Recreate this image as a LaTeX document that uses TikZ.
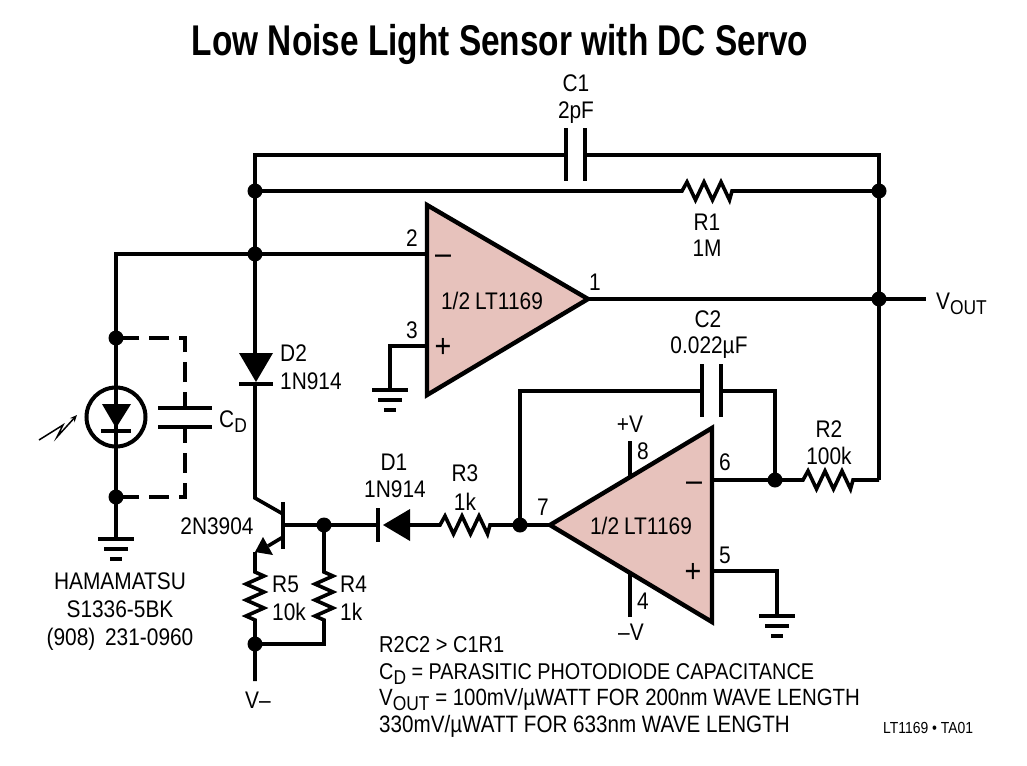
\documentclass[tikz,border=0pt]{standalone}
\usepackage{fontspec}
\setmainfont[FakeStretch=0.87]{Liberation Sans}
\newfontfamily\titlefont[FakeStretch=0.777]{Liberation Sans}
\usetikzlibrary{arrows.meta}
\definecolor{opfill}{HTML}{E7C2BC}
\newcommand\hzig{-- ++(5,-9) -- ++(8.5,18) -- ++(8.5,-18) -- ++(8.5,18) -- ++(8.5,-18) -- ++(8.5,18) -- ++(2.5,-9)}
\newcommand\vzig{-- ++(9,4) -- ++(-18,8) -- ++(18,8) -- ++(-18,8) -- ++(18,8) -- ++(-18,8) -- ++(9,4)}
\newcommand\subt[1]{\raisebox{-5pt}{\fontsize{20}{22}\selectfont #1}}
\tikzset{
  wire/.style={line width=3.6pt},
  amp/.style={line width=4.4pt,fill=opfill,line join=miter,miter limit=20},
  plate/.style={line width=4.2pt},
  dot/.style={circle,fill=black,inner sep=0pt,minimum size=15pt},
  lab/.style={inner sep=0pt,anchor=base,font=\fontsize{24}{26}\selectfont},
  labl/.style={inner sep=0pt,anchor=base west,font=\fontsize{24}{26}\selectfont},
  sign/.style={inner sep=0pt,anchor=base,font=\fontsize{33}{35}\selectfont},
  dashw/.style={line width=3.6pt,dash pattern=on 20pt off 10pt,dash phase=4pt},
}
\begin{document}
\begin{tikzpicture}[x=1pt,y=-1pt]
\useasboundingbox (0,0) rectangle (1027,765);
% title
\node[inner sep=0pt,anchor=base,font=\titlefont\bfseries\fontsize{43}{46}\selectfont] (title) at (500,56) {Low Noise Light Sensor with DC Servo};
% key points
\coordinate (tl) at (255,155); \coordinate (tr) at (879,155);
\coordinate (c1a) at (566,155); \coordinate (c1b) at (585,155);
\coordinate (r1a) at (682,191);
\coordinate (in2) at (427,254); \coordinate (in3) at (427,346);
\coordinate (g1) at (390,346); \coordinate (g1b) at (390,390);
\coordinate (o1) at (588,299); \coordinate (vout) at (926,299);
\coordinate (pdtop) at (116,254); \coordinate (pdgnd) at (116,539);
\coordinate (d2a) at (255,353); \coordinate (d2b) at (255,384);
\coordinate (col) at (255,498); \coordinate (colb) at (283,514);
\coordinate (eb) at (283,537); \coordinate (ee) at (268,546);
\coordinate (et) at (255,552); \coordinate (r5a) at (255,572); \coordinate (r5b) at (255,620);
\coordinate (base) at (283,525); \coordinate (r4a) at (324,572); \coordinate (r4b) at (324,620);
\coordinate (r4c) at (324,644); \coordinate (vm) at (255,681);
\coordinate (d1k) at (378,525); \coordinate (d1a) at (410,525); \coordinate (r3a) at (440,525);
\coordinate (o2) at (550,525);
\coordinate (c2l) at (520,391); \coordinate (c2a) at (702,391); \coordinate (c2b) at (721,391); \coordinate (c2r) at (775,391);
\coordinate (in6) at (712,480); \coordinate (r2a) at (803,480); \coordinate (r2e) at (879,480);
\coordinate (in5) at (712,571); \coordinate (g2) at (777,571); \coordinate (g2b) at (777,616);
\coordinate (p8) at (630,441); \coordinate (p8b) at (630,478);
\coordinate (p4) at (630,617); \coordinate (p4b) at (630,572);
% junctions
\node[dot] (j1) at (255,191) {}; \node[dot] (j2) at (879,191) {};
\node[dot] (j3) at (255,254) {}; \node[dot] (j4) at (879,299) {};
\node[dot] (j5) at (116,338) {}; \node[dot] (j6) at (116,497) {};
\node[dot] (j7) at (324,525) {}; \node[dot] (j8) at (520,525) {};
\node[dot] (j9) at (775,480) {}; \node[dot] (j10) at (255,644) {};
% wires
\draw[wire] (c1a) -- (tl) -- (d2a);
\draw[wire] (c1b) -- (tr) -- (r2e);
\draw[wire] (j1.center) -- (r1a) \hzig -- (j2.center);
\draw[wire] (in2) -- (pdtop) -- (pdgnd);
\draw[wire] (in3) -- (g1) -- (g1b);
\draw[wire] (o1) -- (vout);
\draw[wire] (d2b) -- (col) -- (colb);
\draw[wire] (base) -- (d1k);
\draw[wire] (eb) -- (ee);
\draw[wire] (et) -- (r5a) \vzig -- (j10.center) -- (vm);
\draw[wire] (j7.center) -- (r4a) \vzig -- (r4c) -- (j10.center);
\draw[wire] (d1a) -- (r3a) \hzig -- (o2);
\draw[wire] (j8.center) -- (c2l) -- (c2a);
\draw[wire] (c2b) -- (c2r) -- (j9.center);
\draw[wire] (in6) -- (r2a) \hzig -- (r2e);
\draw[wire] (in5) -- (g2) -- (g2b);
\draw[wire] (p8) -- (p8b);
\draw[wire] (p4) -- (p4b);
% op amps
\draw[amp] (427,205) -- (588,299) -- (427,395) -- cycle;
\draw[amp] (712,428) -- (712,622) -- (550,525) -- cycle;
% C1, C2
\draw[plate] (566,128) -- (566,181); \draw[plate] (585,128) -- (585,181);
\draw[plate] (702,364) -- (702,417); \draw[plate] (721,364) -- (721,417);
% D2
\fill (239,353) -- (273,353) -- (256,382) -- cycle;
\draw[plate] (239,384) -- (273,384);
% transistor
\draw[plate] (283,502) -- (283,549);
\fill (263,537) -- (255,552) -- (273,555) -- cycle;
% D1
\draw[plate] (378,508) -- (378,542);
\fill (383,525) -- (410,509) -- (410,541) -- cycle;
% photodiode
\draw[line width=4pt] (116,417) circle (29.5);
\fill (102,404) -- (131,404) -- (116,428) -- cycle;
\draw[plate] (101,431) -- (131,431);
% light arrow
\draw[line width=1.5pt,-{Stealth[length=7pt,width=6pt]}] (39,440) -- (63,425) -- (57,437) -- (77,415);
% CD
\draw[plate] (158,408) -- (212,408); \draw[plate] (158,427) -- (212,427);
\draw[dashw] (185,408) -- (185,338) -- (j5.center);
\draw[dashw] (185,427) -- (185,497) -- (j6.center);
% grounds
\foreach \n/\x/\y in {a/116/539,b/390/390,c/777/616}{
  \draw[plate] (\x-18,\y) -- (\x+18,\y);
  \draw[plate] (\x-12,\y+10) -- (\x+12,\y+10);
  \draw[plate] (\x-6,\y+20) -- (\x+6,\y+20);
}
% labels
\node[lab] (lc1) at (576,92) {C1};
\node[lab] (lc1v) at (576,119) {2pF};
\node[lab] (lr1) at (707,230) {R1};
\node[lab] (lr1v) at (707,256) {1M};
\node[lab] (l2) at (412,246) {2};
\node[lab] (l3) at (412,338) {3};
\node[lab] (l1) at (595,290) {1};
\node[lab] (lo1) at (492,309) {1/2\hspace{5pt}LT1169};
\node[sign] (m1) at (443,264) {–};
\node[sign] (p1) at (443,357) {+};
\node[lab] (lc2) at (708,327) {C2};
\node[lab] (lc2v) at (709,353) {0.022µF};
\node[labl] (lvout) at (936,309) {V\subt{OUT}};
\node[labl] (ld2) at (280,361) {D2};
\node[labl] (ld2v) at (280,389) {1N914};
\node[labl] (lcd) at (219,427) {C\subt{D}};
\node[lab] (lq) at (217,534) {2N3904};
\node[lab] (ls1) at (120,589) {HAMAMATSU};
\node[lab] (ls2) at (120,617) {S1336-5BK};
\node[lab] (ls3) at (120,645) {(908)\hspace{4pt} 231-0960};
\node[lab] (lvm) at (258,708) {V–};
\node[labl] (lr5) at (272,592) {R5};
\node[labl] (lr5v) at (272,620) {10k};
\node[labl] (lr4) at (340,592) {R4};
\node[labl] (lr4v) at (340,620) {1k};
\node[lab] (ld1) at (394,470) {D1};
\node[lab] (ld1v) at (395,497) {1N914};
\node[lab] (lr3) at (465,481) {R3};
\node[lab] (lr3v) at (465,510) {1k};
\node[lab] (l7) at (543,515) {7};
\node[lab] (lpv) at (630,432) {+V};
\node[lab] (l8) at (643,459) {8};
\node[lab] (l6) at (725,470) {6};
\node[sign] (m2) at (694,491) {–};
\node[lab] (l5) at (725,563) {5};
\node[sign] (p2) at (693,582) {+};
\node[lab] (l4) at (643,609) {4};
\node[lab] (lmv) at (631,640) {–V};
\node[lab] (lr2) at (829,437) {R2};
\node[lab] (lr2v) at (829,464) {100k};
\node[lab] (lo2) at (641,534) {1/2\hspace{5pt}LT1169};
\node[labl,font=\fontsize{23}{26}\selectfont] (n1) at (379,652) {R2C2 > C1R1};
\node[labl,font=\fontsize{22.8}{26}\selectfont] (n2) at (379,679) {C\subt{D} = PARASITIC PHOTODIODE CAPACITANCE};
\node[labl,font=\fontsize{23.5}{26}\selectfont] (n3) at (379,705) {V\subt{OUT} = 100mV/µWATT FOR 200nm WAVE LENGTH};
\node[labl,font=\fontsize{23.7}{26}\selectfont] (n4) at (379,732) {330mV/µWATT FOR 633nm WAVE LENGTH};
\node[inner sep=0pt,anchor=base west,font=\fontsize{16}{18}\selectfont] (tag) at (883,733) {LT1169 • TA01};
\end{tikzpicture}
\end{document}
